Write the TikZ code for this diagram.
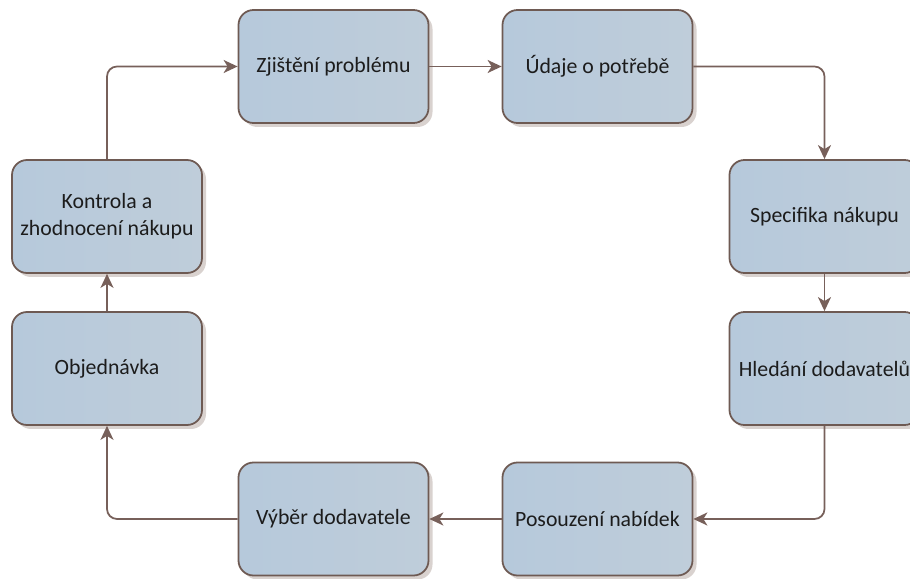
\documentclass[tikz,border=0pt]{standalone}
\usepackage{fontspec}
\setmainfont{Carlito}
\usetikzlibrary{arrows.meta,shadows}
\definecolor{obrys}{HTML}{6E5A53}
\definecolor{sipka}{HTML}{77605A}
\definecolor{vyplnA}{HTML}{B6C9DB}
\definecolor{vyplnB}{HTML}{BFCDDA}
\definecolor{stin}{HTML}{D9D2CF}
\definecolor{pismo}{HTML}{1C1C1C}
\tikzset{
	krok/.style={draw=obrys, line width=1pt, rounded corners=0.3cm,
		minimum width=3.8cm, minimum height=2.26cm, inner sep=2pt,
		left color=vyplnA, right color=vyplnB, text=pismo,
		align=center, font=\fontsize{12.4}{15.4}\selectfont,
		drop shadow={shadow xshift=0.08cm, shadow yshift=-0.08cm, fill=stin, opacity=1}},
	tok/.style={draw=sipka, line width=1pt, rounded corners=0.2cm,
		-{Stealth[length=0.28cm, width=0.26cm, inset=0.08cm]}}
}

\begin{document}
\begin{tikzpicture}
	%%%%% START %%%%%
	
	\clip (0, 0) rectangle (18.2, -11.58);
	
	\node[krok] (zji) at (6.67, -1.33) {Zjištění problému};
	\node[krok] (uda) at (11.95, -1.33) {Údaje o potřebě};
	\node[krok] (spe) at (16.49, -4.33) {Specifika nákupu};
	\node[krok] (hle) at (16.49, -7.37) {Hledání dodavatelů};
	\node[krok] (pos) at (11.95, -10.38) {Posouzení nabídek};
	\node[krok] (vyb) at (6.67, -10.38) {Výběr dodavatele};
	\node[krok] (obj) at (2.14, -7.37) {Objednávka};
	\node[krok] (kon) at (2.14, -4.33) {Kontrola a\\zhodnocení nákupu};
	
	\draw[tok] (kon.north) |- (zji.west);
	\draw[tok] (zji) -- (uda);
	\draw[tok] (uda.east) -| (spe.north);
	\draw[tok] (spe) -- (hle);
	\draw[tok] (hle.south) |- (pos.east);
	\draw[tok] (pos) -- (vyb);
	\draw[tok] (vyb.west) -| (obj.south);
	\draw[tok] (obj) -- (kon);
	
	%%%%% END %%%%%
\end{tikzpicture}
\end{document}
